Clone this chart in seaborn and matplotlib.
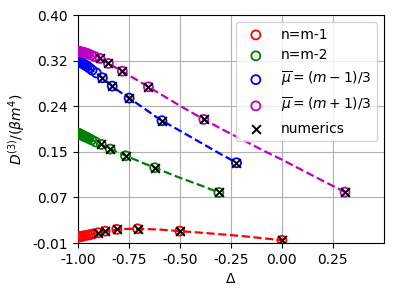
import matplotlib
matplotlib.use("Agg")
import matplotlib.pyplot as plt
import numpy as np
import seaborn as sns

# Delta values (x) and D3/(beta m^4) values (y) for each family
red_x = [0.0, -0.5, -0.707, -0.809, -0.866, -0.901, -0.924, -0.940, -0.951, -0.966,
         -0.975, -0.981, -0.988, -0.992, -0.9945, -0.997, -0.9986, -0.9995]
red_y = [-0.005, 0.0115, 0.0157, 0.0146, 0.0115, 0.0085, 0.0066, 0.0052, 0.0043, 0.0033,
         0.0026, 0.0021, 0.0016, 0.0013, 0.0012, 0.0011, 0.001, 0.001]

green_x = [-0.309, -0.623, -0.766, -0.841, -0.885, -0.9135, -0.9325, -0.9458, -0.9556,
           -0.963, -0.9686, -0.973, -0.9796, -0.984, -0.9883, -0.9947, -0.998]
green_y = [0.081, 0.1254, 0.147, 0.159, 0.1674, 0.172, 0.1755, 0.178, 0.180,
           0.181, 0.182, 0.1828, 0.184, 0.1848, 0.1857, 0.187, 0.1876]

blue_x = [-0.2225, -0.5878, -0.7485, -0.8315, -0.8795, -0.9096, -0.9298, -0.9439, -0.9541,
          -0.9618, -0.9677, -0.9743, -0.979, -0.9843, -0.988, -0.9947, -0.998]
blue_y = [0.1344, 0.210, 0.2507, 0.2723, 0.2872, 0.296, 0.301, 0.305, 0.308,
          0.3095, 0.311, 0.3125, 0.3135, 0.3148, 0.3155, 0.317, 0.318]

magenta_x = [0.309, -0.3827, -0.654, -0.7818, -0.850, -0.891, -0.9172, -0.935, -0.9477,
             -0.957, -0.964, -0.9705, -0.977, -0.9825, -0.9873, -0.9944, -0.998]
magenta_y = [0.0817, 0.2124, 0.271, 0.299, 0.313, 0.322, 0.3255, 0.328, 0.330,
             0.331, 0.332, 0.3326, 0.333, 0.3336, 0.334, 0.3345, 0.335]

# number of leading points that also have a numerics cross
n_numerics = [6, 5, 5, 6]

# analytic curves (dashed)
red_line_x = [-1.0, -0.97, -0.94, -0.9, -0.85, -0.8, -0.75, -0.7, -0.6, -0.5, -0.4, -0.3, -0.2, -0.1, 0.0]
red_line_y = [0.001, 0.003, 0.005, 0.0085, 0.0122, 0.0146, 0.0156, 0.0157, 0.0143, 0.0115,
              0.0088, 0.0058, 0.0028, -0.001, -0.005]
green_line_x = [-1.0, -0.95, -0.9, -0.85, -0.8, -0.7, -0.6, -0.5, -0.4, -0.309]
green_line_y = [0.188, 0.179, 0.170, 0.1605, 0.1525, 0.137, 0.122, 0.1075, 0.094, 0.081]
blue_line_x = [-1.0, -0.95, -0.9, -0.85, -0.8, -0.7, -0.6, -0.5, -0.4, -0.3, -0.2225]
blue_line_y = [0.318, 0.307, 0.293, 0.2778, 0.2635, 0.2385, 0.2128, 0.192, 0.171, 0.150, 0.1344]
magenta_line_x = [-1.0, -0.95, -0.9, -0.85, -0.8, -0.7, -0.6, -0.5, -0.4, -0.3, -0.2, -0.1,
                  0.0, 0.1, 0.2, 0.309]
magenta_line_y = [0.335, 0.3295, 0.3225, 0.313, 0.3025, 0.281, 0.259, 0.237, 0.216, 0.196,
                  0.177, 0.158, 0.140, 0.121, 0.102, 0.0817]

labels = ["n=m-1", "n=m-2", r"$\overline{\mu}=(m-1)/3$", r"$\overline{\mu}=(m+1)/3$"]
colors = ["r", "g", "b", "m"]

x_ticks = [-1.0, -0.75, -0.5, -0.25, 0.0, 0.25]
x_ticklabels = ["-1.00", "-0.75", "-0.50", "-0.25", "0.00", "0.25"]
y_ticks = [-0.01, 0.072, 0.154, 0.236, 0.318, 0.40]
y_ticklabels = ["-0.01", "0.07", "0.15", "0.24", "0.32", "0.40"]

plt.rcParams["axes.unicode_minus"] = False

fig, ax = plt.subplots(figsize=(3.95, 2.95), dpi=100)
fig.subplots_adjust(left=0.197, right=0.972, top=0.949, bottom=0.176)

series = [(red_x, red_y), (green_x, green_y), (blue_x, blue_y), (magenta_x, magenta_y)]
lines = [(red_line_x, red_line_y), (green_line_x, green_line_y),
         (blue_line_x, blue_line_y), (magenta_line_x, magenta_line_y)]

# open circles
for (xs, ys), c, lab in zip(series, colors, labels):
    sns.scatterplot(x=xs, y=ys, ax=ax, marker="o", facecolor="none", edgecolor=c,
                    s=42, linewidth=1.3, label=lab, zorder=3)

# dashed analytic curves
for (xs, ys), c in zip(lines, colors):
    sns.lineplot(x=xs, y=ys, ax=ax, sort=False, color=c, linestyle="--",
                 linewidth=1.6, zorder=2)

# numerics crosses
for i, ((xs, ys), k) in enumerate(zip(series, n_numerics)):
    sns.scatterplot(x=xs[:k], y=ys[:k], ax=ax, marker="x", color="k", s=40,
                    linewidth=1.4, label="numerics" if i == 0 else None, zorder=4)

ax.set_xlim(-1.0, 0.5)
ax.set_ylim(-0.01, 0.40)
ax.set_xticks(x_ticks)
ax.set_xticklabels(x_ticklabels)
ax.set_yticks(y_ticks)
ax.set_yticklabels(y_ticklabels)
ax.grid(True, color="#b0b0b0", linewidth=0.8)
ax.set_axisbelow(True)
ax.set_xlabel(r"$\Delta$")
ax.set_ylabel(r"$D^{(3)}/(\beta m^4)$")

handles, labs = ax.get_legend_handles_labels()
ax.legend(handles, labs, loc="upper right")

fig.savefig("out.png", dpi=100)
